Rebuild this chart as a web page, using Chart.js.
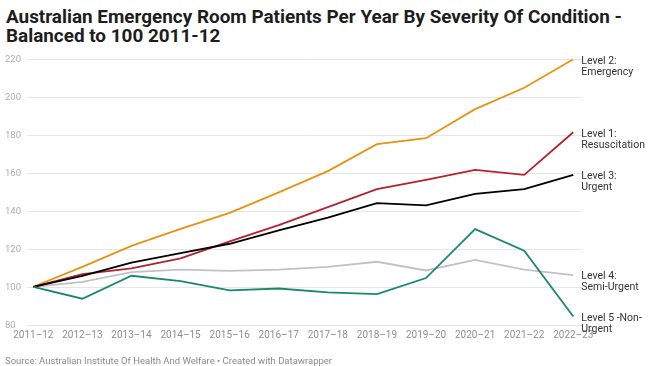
<!DOCTYPE html>
<html>
<head>
<meta charset="utf-8">
<script src="https://cdn.jsdelivr.net/npm/chart.js@4.4.1/dist/chart.umd.min.js"></script>
<style>
  html, body { margin: 0; padding: 0; background: #fff; }
  #wrap { position: relative; width: 650px; height: 366px; overflow: hidden; font-family: Roboto, sans-serif; }
  #title { position: absolute; left: 6px; top: 6.8px; font-weight: 700; font-size: 18px; line-height: 19.5px; color: #1d1d1d; white-space: nowrap; transform-origin: 0 0; }
  #source { position: absolute; left: 5px; top: 355px; font-size: 9.5px; line-height: 12px; color: #8a8a8a; white-space: nowrap; transform-origin: 0 0; }
  canvas { position: absolute; left: 0; top: 0; }
</style>
</head>
<body>
<div id="wrap">
  <div id="title"><span id="t1">Australian Emergency Room Patients Per Year By Severity Of Condition -</span><br>Balanced to 100 2011-12</div>
  <canvas id="chart" width="650" height="366"></canvas>
  <div id="source">Source: Australian Institute Of Health And Welfare • Created with Datawrapper</div>
</div>
<script>
// ─────────────────────────────────────────────
// DATA (index, 2011-12 = 100)
// ─────────────────────────────────────────────
const years = ['2011–12','2012–13','2013–14','2014–15','2015–16','2016–17',
               '2017–18','2018–19','2019–20','2020–21','2021–22','2022–23'];

const level1 = [100, 106.7, 109.7, 115.0, 124.0, 132.5, 142.0, 151.5, 156.4, 161.7, 159.0, 181.5];
const level2 = [100, 110.5, 121.6, 130.5, 139.0, 149.8, 161.0, 175.2, 178.4, 193.7, 205.0, 220.0];
const level3 = [100, 105.8, 112.8, 117.7, 122.7, 129.7, 136.5, 144.1, 142.9, 149.0, 151.5, 159.0];
const level4 = [100, 102.6, 107.7, 109.0, 108.4, 109.1, 110.5, 113.2, 108.6, 114.2, 109.0, 106.2];
const level5 = [100, 93.7, 105.8, 103.0, 98.1, 99.1, 97.0, 96.1, 104.6, 130.4, 119.0, 84.3];

const yTicks = [80, 100, 120, 140, 160, 180, 200, 220];

// ─────────────────────────────────────────────
// PLUGINS: gridlines + y labels, end labels
// ─────────────────────────────────────────────
const gridPlugin = {
  id: 'dwGrid',
  beforeDatasetsDraw(chart) {
    const { ctx, scales: { y } } = chart;
    ctx.save();
    ctx.strokeStyle = '#e6e6e6';
    ctx.lineWidth = 1;
    ctx.font = '9.5px Roboto';
    ctx.fillStyle = '#adadad';
    ctx.textBaseline = 'middle';
    ctx.textAlign = 'left';
    yTicks.forEach(v => {
      const py = Math.round(y.getPixelForValue(v)) + 0.5;
      ctx.beginPath();
      ctx.moveTo(27, py);
      ctx.lineTo(582, py);
      ctx.stroke();
      ctx.fillText(String(v), 5, py);
    });
    ctx.restore();
  }
};

const endLabels = {
  id: 'endLabels',
  afterDatasetsDraw(chart) {
    const { ctx } = chart;
    ctx.save();
    ctx.font = '10.5px Roboto';
    ctx.fillStyle = '#333';
    ctx.textBaseline = 'middle';
    ctx.textAlign = 'left';
    chart.data.datasets.forEach((ds, i) => {
      const pts = chart.getDatasetMeta(i).data;
      const p = pts[pts.length - 1];
      ds.endLabel.forEach((line, k) => ctx.fillText(line, p.x + 8, p.y + 1.7 + k * 11));
    });
    ctx.restore();
  }
};

// ─────────────────────────────────────────────
// CHART
// ─────────────────────────────────────────────
function line(data, color, endLabel) {
  return { data, borderColor: color, borderWidth: 1.8, pointRadius: 0, tension: 0, fill: false, endLabel };
}

new Chart(document.getElementById('chart'), {
  type: 'line',
  data: {
    labels: years,
    datasets: [
      line(level5, '#168a6e', ['Level 5 -Non-', 'Urgent']),
      line(level3, '#000000', ['Level 3:', 'Urgent']),
      line(level1, '#b4222f', ['Level 1:', 'Resuscitation']),
      line(level2, '#e8930f', ['Level 2:', 'Emergency']),
      line(level4, '#c2c2c2', ['Level 4:', 'Semi-Urgent'])
    ]
  },
  options: {
    responsive: false,
    animation: false,
    layout: { padding: { left: 33.3, right: 76.7, top: 59.3, bottom: 21.3 } },
    plugins: { legend: { display: false }, tooltip: { enabled: false } },
    scales: {
      x: {
        offset: false,
        grid: { display: false, drawTicks: false },
        border: { display: false },
        ticks: { color: '#8f8f8f', font: { family: 'Roboto', size: 10 }, padding: 5, maxRotation: 0, autoSkip: false },
        afterFit: s => { s.height = 20; }
      },
      y: { display: false, min: 80, max: 220 }
    }
  },
  plugins: [gridPlugin, endLabels]
});

// fit title line 1 to its measured width in the reference
const t = document.getElementById('title');
const w1 = document.getElementById('t1').getBoundingClientRect().width;
t.style.transform = 'scaleX(' + (616 / w1) + ')';
</script>
</body>
</html>
